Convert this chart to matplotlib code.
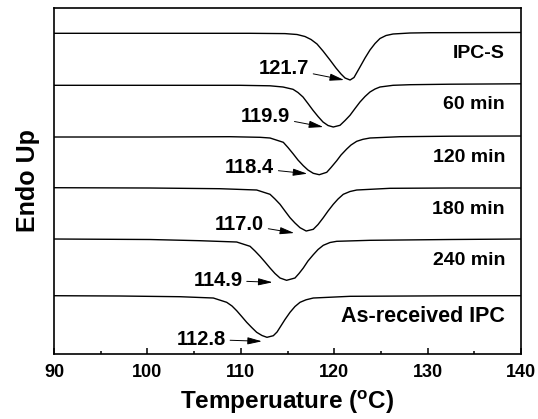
import matplotlib
matplotlib.use('Agg')
import matplotlib.pyplot as plt
from matplotlib.ticker import MultipleLocator

plt.rcParams['font.family'] = ['Liberation Sans', 'DejaVu Sans']
plt.rcParams['font.weight'] = 'bold'

# DSC traces (temperature in C, stacked heat flow in arbitrary units)
t_ipcs = [90.00, 100.28, 110.99, 114.73, 116.02, 116.87, 117.52, 118.16, 118.80, 119.55,
          120.19, 120.73, 121.16, 121.70, 122.12, 122.76, 123.30, 123.83, 124.37, 124.90,
          125.55, 126.30, 128.12, 130.26, 140.00]
hf_ipcs = [320.7, 320.7, 320.7, 320.4, 319.5, 317.5, 314.5, 310.0, 303.0, 294.0,
           286.0, 280.0, 276.0, 274.0, 276.5, 287.0, 296.0, 304.0, 310.5, 315.5,
           318.5, 320.0, 321.0, 321.3, 321.5]

t_60 = [90.00, 100.28, 109.91, 113.13, 114.52, 115.59, 116.12, 116.66, 117.19, 117.73,
        118.27, 118.80, 119.34, 119.90, 120.62, 121.16, 121.69, 122.23, 122.76, 123.30,
        123.83, 124.37, 124.90, 126.30, 128.12, 132.40, 140.00]
hf_60 = [268.7, 268.7, 268.7, 268.2, 267.0, 264.7, 261.5, 257.0, 250.5, 243.7,
         237.5, 232.0, 228.5, 227.0, 228.7, 233.5, 238.7, 245.5, 252.0, 257.5,
         262.0, 265.0, 267.0, 268.7, 269.3, 269.8, 270.2]

t_120 = [90.00, 100.28, 108.84, 112.06, 113.13, 114.55, 115.05, 115.62, 116.12, 116.69,
         117.19, 117.76, 118.40, 119.20, 119.66, 120.27, 120.73, 121.34, 121.80, 122.41,
         123.08, 123.83, 127.04, 132.40, 140.00]
hf_120 = [217.0, 217.0, 217.3, 216.7, 216.0, 211.7, 206.5, 200.0, 194.0, 188.3,
          184.0, 180.7, 179.3, 181.7, 186.5, 193.3, 199.0, 205.0, 209.0, 212.7,
          214.7, 216.0, 217.3, 217.8, 218.0]

t_180 = [90.00, 100.28, 107.77, 111.70, 113.13, 113.66, 114.20, 114.73, 115.27, 115.80,
         116.34, 117.00, 117.76, 118.27, 118.83, 119.34, 119.90, 120.41, 120.97, 121.69,
         122.41, 125.97, 132.40, 140.00]
hf_180 = [166.3, 166.0, 165.3, 164.0, 159.7, 155.0, 149.7, 143.0, 136.3, 131.0,
          126.3, 123.0, 124.7, 129.5, 136.3, 143.0, 149.7, 155.0, 159.7, 162.5,
          164.0, 165.7, 166.0, 166.0]

t_240 = [90.00, 100.28, 105.63, 109.56, 110.99, 111.52, 112.06, 112.59, 113.13, 113.66,
         114.20, 114.90, 115.80, 116.23, 116.69, 117.19, 117.76, 118.27, 118.83, 119.55,
         120.27, 123.83, 132.40, 140.00]
hf_240 = [115.0, 114.5, 113.3, 112.0, 107.7, 103.0, 97.7, 92.0, 86.0, 80.5,
          76.0, 73.7, 76.0, 80.5, 86.0, 93.0, 99.3, 104.5, 108.7, 111.5,
          112.7, 113.7, 114.5, 115.0]

t_asr = [90.00, 97.07, 103.49, 107.06, 108.49, 109.06, 109.56, 110.10, 110.63, 111.17,
         111.70, 112.27, 112.80, 113.48, 113.88, 114.20, 114.73, 115.27, 115.80, 116.34,
         116.98, 117.76, 121.69, 132.40, 140.00]
hf_asr = [58.3, 58.0, 57.3, 56.0, 51.7, 48.0, 43.3, 37.5, 31.7, 26.5,
          21.7, 18.5, 16.7, 18.3, 22.0, 26.7, 34.5, 41.7, 47.5, 51.7,
          54.2, 56.0, 57.7, 58.2, 58.3]

sample_names = ['IPC-S', '60 min', '120 min', '180 min', '240 min', 'As-received IPC']
peak_temps = [121.7, 119.9, 118.4, 117.0, 114.9, 112.8]

temps = [t_ipcs, t_60, t_120, t_180, t_240, t_asr]
flows = [hf_ipcs, hf_60, hf_120, hf_180, hf_240, hf_asr]

# arrow head / tail offsets from each peak (dT, dHF)
head_off = [(-0.64, 0), (-1.07, 0), (-1.28, 1), (-1.28, -2), (-1.5, -2), (-0.54, -4)]
tail_off = [(-4.39, 12), (-4.6, 11), (-4.82, 7), (-4.5, 7), (-4.71, 0), (-4.39, -2)]
name_size = [14, 14, 14, 14, 14, 15.5]

fig = plt.figure(figsize=(5.38, 4.19), dpi=100)
ax = fig.add_axes([0.1004, 0.1551, 0.868, 0.8258])

for i in range(len(sample_names)):
    ax.plot(temps[i], flows[i], color='black', lw=1.0)

    ymin = min(flows[i])
    head = (peak_temps[i] + head_off[i][0], ymin + head_off[i][1])
    tail = (peak_temps[i] + tail_off[i][0], ymin + tail_off[i][1])
    ax.annotate('%.1f' % peak_temps[i], xy=head, xytext=tail,
                ha='right', va='center', fontsize=14.5, fontweight='bold',
                arrowprops=dict(arrowstyle='-|>,head_length=0.6,head_width=0.15',
                                color='black', lw=0.7, shrinkA=1, shrinkB=0))

    # sample name sits just under the right-hand baseline
    ax.text(138.3, flows[i][-1] - 21, sample_names[i], ha='right', va='center',
            fontsize=name_size[i], fontweight='bold')

ax.set_xlim(90, 140)
ax.set_ylim(0, 346)
ax.xaxis.set_major_locator(MultipleLocator(10))
ax.xaxis.set_minor_locator(MultipleLocator(5))
ax.tick_params(axis='x', which='major', direction='in', length=4, width=1.1,
               labelsize=13, pad=7)
ax.tick_params(axis='x', which='minor', direction='in', length=2.5, width=1.1)
ax.tick_params(axis='y', left=False, labelleft=False)
for lab in ax.get_xticklabels():
    lab.set_fontweight('bold')
for sp in ax.spines.values():
    sp.set_linewidth(1.2)

ax.set_xlabel(r'Temperuature ($^\mathregular{o}$C)', fontsize=17.5, fontweight='bold', labelpad=5)
ax.set_ylabel('Endo Up', fontsize=18, fontweight='bold', labelpad=10)

fig.savefig('out.png', dpi=100)
